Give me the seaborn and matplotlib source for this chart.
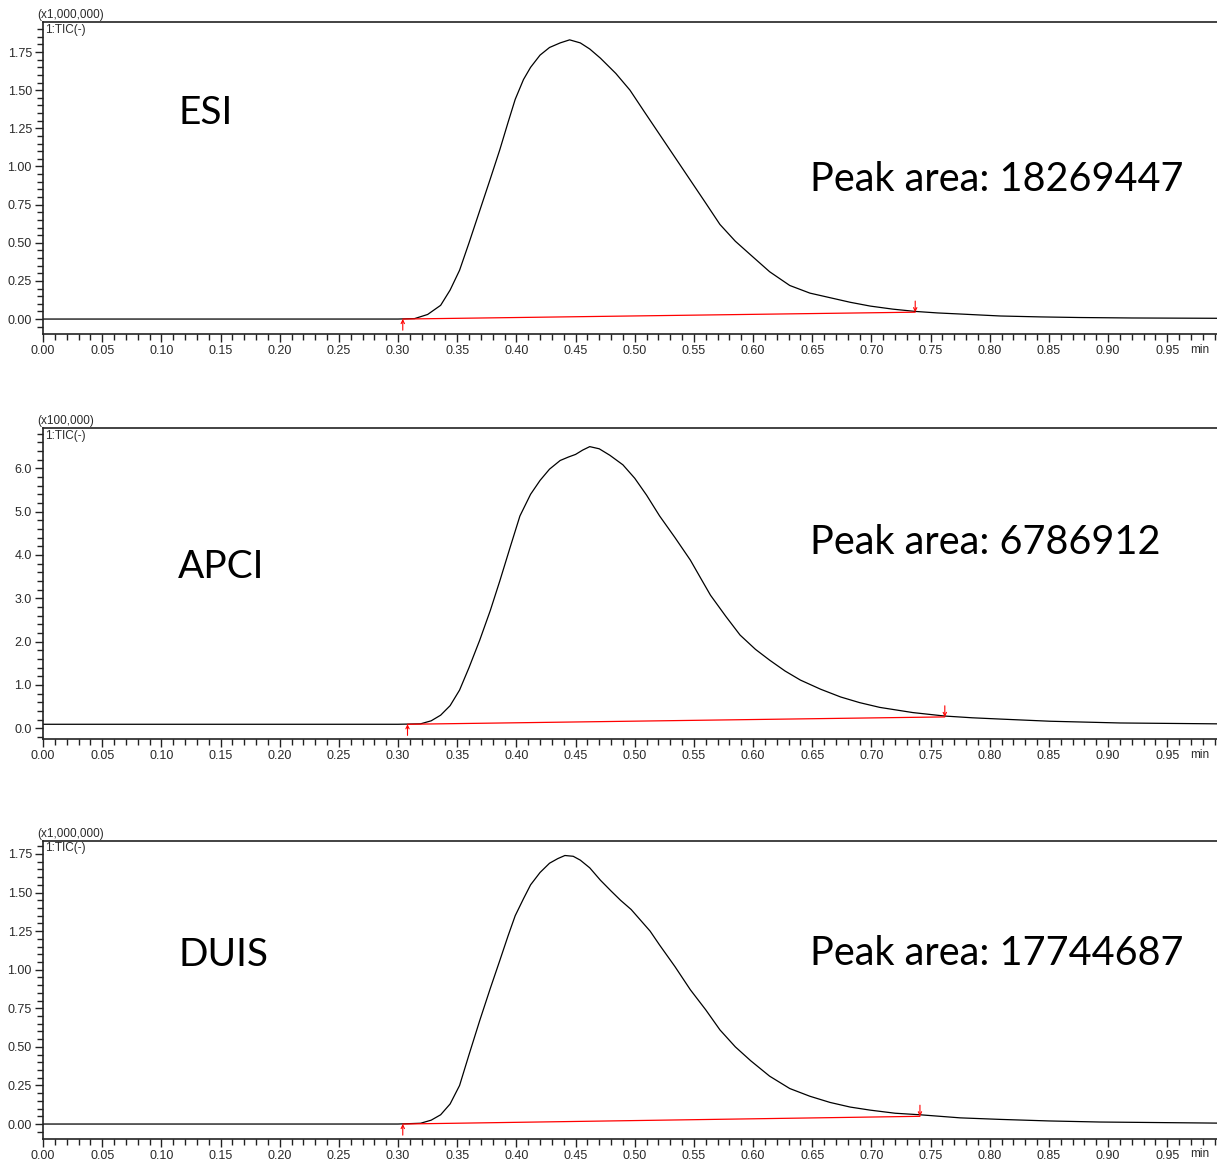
import numpy as np
import pandas as pd
import matplotlib
matplotlib.use("Agg")
import matplotlib.pyplot as plt
from matplotlib.ticker import MultipleLocator, FormatStrFormatter
import seaborn as sns

# ---------------- data ----------------
esi_time = [0.00, 0.10, 0.20, 0.30, 0.314, 0.325, 0.336, 0.344, 0.352, 0.360, 0.369, 0.378,
            0.386, 0.393, 0.399, 0.406, 0.412, 0.420, 0.428, 0.437, 0.445, 0.454, 0.462,
            0.471, 0.484, 0.496, 0.508, 0.521, 0.534, 0.547, 0.560, 0.572, 0.585, 0.598,
            0.614, 0.631, 0.648, 0.665, 0.682, 0.699, 0.718, 0.737, 0.756, 0.775, 0.809,
            0.843, 0.876, 0.92, 0.992]
esi_int = [0.0, 0.0, 0.0, 0.0, 0.003, 0.03, 0.09, 0.19, 0.32, 0.50, 0.71, 0.92,
           1.11, 1.29, 1.44, 1.57, 1.65, 1.73, 1.78, 1.81, 1.83, 1.81, 1.77,
           1.71, 1.61, 1.50, 1.36, 1.21, 1.06, 0.91, 0.76, 0.62, 0.51, 0.42,
           0.31, 0.22, 0.17, 0.14, 0.11, 0.085, 0.065, 0.05, 0.04, 0.033, 0.02,
           0.014, 0.01, 0.007, 0.005]
esi_base_t = [0.304, 0.737]
esi_base_y = [0.0, 0.045]

apci_time = [0.00, 0.10, 0.20, 0.30, 0.319, 0.328, 0.336, 0.344, 0.352, 0.360, 0.369, 0.378,
             0.386, 0.395, 0.403, 0.412, 0.420, 0.428, 0.437, 0.444, 0.450, 0.456, 0.462,
             0.470, 0.479, 0.490, 0.500, 0.510, 0.521, 0.534, 0.547, 0.556, 0.564, 0.577,
             0.589, 0.602, 0.614, 0.627, 0.640, 0.657, 0.674, 0.690, 0.707, 0.735, 0.762,
             0.785, 0.809, 0.851, 0.910, 0.992]
apci_int = [0.09, 0.09, 0.09, 0.09, 0.10, 0.17, 0.30, 0.52, 0.88, 1.40, 2.03, 2.72,
            3.40, 4.20, 4.90, 5.40, 5.72, 5.98, 6.18, 6.26, 6.32, 6.42, 6.50,
            6.45, 6.30, 6.08, 5.77, 5.38, 4.90, 4.40, 3.88, 3.45, 3.07, 2.58,
            2.15, 1.82, 1.57, 1.32, 1.11, 0.90, 0.72, 0.59, 0.48, 0.36, 0.28,
            0.24, 0.21, 0.16, 0.12, 0.10]
apci_base_t = [0.308, 0.762]
apci_base_y = [0.09, 0.26]

duis_time = [0.00, 0.10, 0.20, 0.30, 0.319, 0.328, 0.336, 0.344, 0.352, 0.360, 0.369, 0.378,
             0.386, 0.393, 0.399, 0.406, 0.412, 0.420, 0.428, 0.435, 0.441, 0.448, 0.454,
             0.462, 0.471, 0.480, 0.488, 0.497, 0.505, 0.513, 0.521, 0.534, 0.547, 0.560,
             0.572, 0.585, 0.598, 0.614, 0.631, 0.648, 0.665, 0.682, 0.699, 0.720, 0.741,
             0.775, 0.809, 0.850, 0.893, 0.992]
duis_int = [0.0, 0.0, 0.0, 0.0, 0.005, 0.025, 0.06, 0.13, 0.25, 0.45, 0.67, 0.88,
            1.06, 1.22, 1.35, 1.46, 1.55, 1.63, 1.69, 1.72, 1.74, 1.735, 1.71,
            1.66, 1.58, 1.51, 1.45, 1.39, 1.32, 1.25, 1.16, 1.02, 0.87, 0.74,
            0.61, 0.50, 0.41, 0.31, 0.23, 0.18, 0.14, 0.11, 0.09, 0.07, 0.06,
            0.04, 0.03, 0.02, 0.013, 0.006]
duis_base_t = [0.304, 0.741]
duis_base_y = [0.0, 0.05]

methods = ["ESI", "APCI", "DUIS"]
peak_areas = ["Peak area: 18269447", "Peak area: 6786912", "Peak area: 17744687"]
scale_labels = ["(x1,000,000)", "(x100,000)", "(x1,000,000)"]
trace_label = "1:TIC(-)"

# ---------------- layout / style ----------------
W, H = 1217, 1166
sns.set_style("ticks")
plt.rcParams["font.family"] = ["Liberation Sans", "DejaVu Sans"]

fig = plt.figure(figsize=(W / 100, H / 100), dpi=100)

def frac_rect(top_px, bottom_px):
    left = 43 / W
    return [left, 1 - bottom_px / H, 1 - left, (bottom_px - top_px) / H]

panel_px = [(22, 334), (428, 739), (841, 1139)]
ylims = [(-0.098, 1.947), (-0.25, 6.93), (-0.097, 1.834)]
y_major = [0.25, 1.0, 0.25]
y_minor = [0.05, 0.2, 0.05]
y_fmt = ["%.2f", "%.1f", "%.2f"]
label_y = [0.708, 0.553, 0.617]
area_y = [0.494, 0.633, 0.624]

series = [
    (esi_time, esi_int, esi_base_t, esi_base_y),
    (apci_time, apci_int, apci_base_t, apci_base_y),
    (duis_time, duis_int, duis_base_t, duis_base_y),
]

tick_color = "#2a2a2a"
for i, (t, y, bt, by) in enumerate(series):
    ax = fig.add_axes(frac_rect(*panel_px[i]))
    df = pd.DataFrame({"t": t, "y": y})
    sns.lineplot(data=df, x="t", y="y", ax=ax, color="black", linewidth=0.9)
    bdf = pd.DataFrame({"t": bt, "y": by})
    sns.lineplot(data=bdf, x="t", y="y", ax=ax, color="red", linewidth=0.9)
    # peak start / end markers
    ax.annotate("", xy=(bt[0], by[0]), xytext=(0, -8), textcoords="offset points",
                arrowprops=dict(arrowstyle="->", color="red", lw=0.8, shrinkA=0, shrinkB=0,
                                mutation_scale=6))
    ax.annotate("", xy=(bt[1], by[1]), xytext=(0, 8), textcoords="offset points",
                arrowprops=dict(arrowstyle="->", color="red", lw=0.8, shrinkA=0, shrinkB=0,
                                mutation_scale=6))

    ax.set_xlim(0, 0.992)
    ax.set_ylim(*ylims[i])
    ax.set_xlabel("")
    ax.set_ylabel("")
    ax.xaxis.set_major_locator(MultipleLocator(0.05))
    ax.xaxis.set_minor_locator(MultipleLocator(0.01))
    ax.xaxis.set_major_formatter(FormatStrFormatter("%.2f"))
    ax.yaxis.set_major_locator(MultipleLocator(y_major[i]))
    ax.yaxis.set_minor_locator(MultipleLocator(y_minor[i]))
    ax.yaxis.set_major_formatter(FormatStrFormatter(y_fmt[i]))
    ax.tick_params(axis="both", which="major", direction="out", length=6, width=1,
                   labelsize=9, labelcolor=tick_color, color="#222222", pad=2)
    ax.tick_params(axis="both", which="minor", direction="out", length=4, width=1,
                   color="#222222")
    for lbl, loc in zip(ax.get_xticklabels(), ax.get_xticks()):
        if loc > 0.951:
            lbl.set_visible(False)
    for side in ["left", "top", "bottom"]:
        ax.spines[side].set_visible(True)
        ax.spines[side].set_linewidth(1.2)
        ax.spines[side].set_color("#222222")
    ax.spines["right"].set_visible(False)

    ax.text(-0.005, 1.003, scale_labels[i], transform=ax.transAxes, fontsize=8.5,
            color=tick_color, ha="left", va="bottom")
    ax.text(0.002, 0.995, trace_label, transform=ax.transAxes, fontsize=8.5,
            color=tick_color, ha="left", va="top")
    ax.text(0.9935, -0.052, "min", transform=ax.transAxes, fontsize=8.5,
            color=tick_color, ha="right", va="center")

    ax.text(0.115, label_y[i], methods[i], transform=ax.transAxes, fontsize=28,
            family=["Lato", "DejaVu Sans"], ha="left", va="center", color="black")
    ax.text(0.653, area_y[i], peak_areas[i], transform=ax.transAxes, fontsize=28.5,
            family=["Lato", "DejaVu Sans"], ha="left", va="center", color="black")

fig.savefig("out.png", dpi=100)
